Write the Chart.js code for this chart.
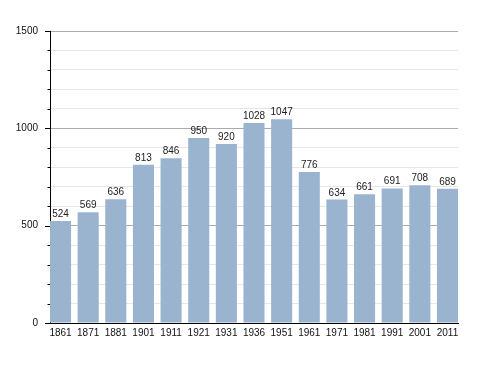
<!DOCTYPE html>
<html>
<head>
<meta charset="utf-8">
<script src="https://cdn.jsdelivr.net/npm/chart.js@4/dist/chart.umd.min.js"></script>
<style>
html,body{margin:0;padding:0;background:#fff;}
#wrap{width:488px;height:373px;}
</style>
</head>
<body>
<div id="wrap"><canvas id="c" width="488" height="373"></canvas></div>
<script>
const years = ['1861','1871','1881','1901','1911','1921','1931','1936','1951','1961','1971','1981','1991','2001','2011'];
const population = [524,569,636,813,846,950,920,1028,1047,776,634,661,691,708,689];
const yMax = 1500;
const yMinorStep = 100;
const yMajorStep = 500;

const FONT = '"Liberation Sans", Arial, Helvetica, sans-serif';

const barLabels = {
  id: 'barLabels',
  afterDatasetsDraw(chart) {
    const ctx = chart.ctx;
    const meta = chart.getDatasetMeta(0);
    ctx.save();
    ctx.font = '10px ' + FONT;
    ctx.fillStyle = '#222';
    ctx.textAlign = 'center';
    ctx.textBaseline = 'alphabetic';
    meta.data.forEach((el, i) => {
      ctx.fillText(String(population[i]), el.x, el.y - 4);
    });
    ctx.restore();
  }
};

const axisTicks = {
  id: 'axisTicks',
  afterDraw(chart) {
    const ctx = chart.ctx;
    const y = chart.scales.y;
    const area = chart.chartArea;
    ctx.save();
    ctx.strokeStyle = '#000';
    ctx.lineWidth = 1;
    y.ticks.forEach(t => {
      const py = Math.round(y.getPixelForValue(t.value)) + 0.5;
      const len = (t.value % yMajorStep === 0) ? 5 : 2.5;
      ctx.beginPath();
      ctx.moveTo(area.left - len, py);
      ctx.lineTo(area.left, py);
      ctx.stroke();
    });
    ctx.restore();
  }
};

new Chart(document.getElementById('c'), {
  type: 'bar',
  data: {
    datasets: [{
      data: population.map((v, i) => ({x: i, y: v})),
      backgroundColor: '#9ab3cf',
      borderWidth: 0,
      barPercentage: 0.762,
      categoryPercentage: 1
    }]
  },
  options: {
    responsive: false,
    animation: false,
    events: [],
    layout: {padding: {left: 0, right: 30, top: 31, bottom: 0}},
    plugins: {legend: {display: false}, tooltip: {enabled: false}},
    scales: {
      x: {
        type: 'linear',
        offset: false,
        min: -0.381,
        max: years.length - 1 + 0.381,
        afterBuildTicks(scale) {
          scale.ticks = years.map((_, i) => ({value: i}));
        },
        afterFit(scale) { scale.height = 50; },
        grid: {display: false, drawTicks: false, offset: false},
        border: {display: true, color: '#000', width: 1},
        ticks: {
          autoSkip: false,
          maxRotation: 0,
          padding: 4,
          color: '#111',
          font: {family: FONT, size: 10},
          callback: (v) => years[v] !== undefined ? years[v] : ''
        }
      },
      y: {
        min: 0,
        max: yMax,
        afterFit(scale) { scale.width = 50; },
        grid: {
          drawTicks: false,
          color: (c) => (c.tick && c.tick.value % yMajorStep === 0) ? '#ababab' : '#e6e6e6',
          lineWidth: 1
        },
        border: {display: true, color: '#000', width: 1},
        ticks: {
          stepSize: yMinorStep,
          autoSkip: false,
          padding: 12,
          color: '#111',
          font: {family: FONT, size: 10},
          callback: (v) => (v % yMajorStep === 0) ? String(v) : ''
        }
      }
    }
  },
  plugins: [barLabels, axisTicks]
});
</script>
</body>
</html>
